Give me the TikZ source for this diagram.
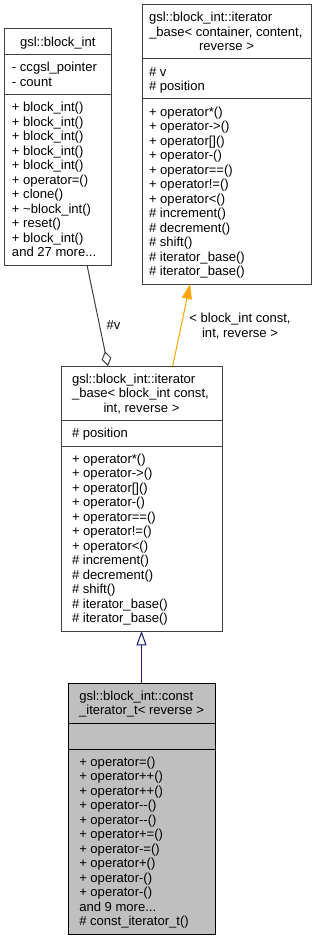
\documentclass[tikz,border=0pt]{standalone}
\usepackage{fontspec}
\setmainfont{Liberation Sans}
\usetikzlibrary{arrows.meta}
\definecolor{nodegray}{HTML}{404040}
\definecolor{edgegray}{HTML}{404040}
\definecolor{rootfill}{HTML}{BFBFBF}
\definecolor{tmplorange}{HTML}{FFA500}
\definecolor{inhblue}{HTML}{191970}
\newcommand\tlines[1]{\begin{tabular}[t]{@{}l@{}}#1\end{tabular}}
\newcommand\clines[1]{\begin{tabular}[t]{@{}c@{}}#1\end{tabular}}
\begin{document}
\begin{tikzpicture}[x=0.75pt,y=-0.75pt,
  font=\fontsize{9.79}{10.875}\selectfont,
  classbox/.style={draw=nodegray, line width=0.75pt, fill=white, inner sep=0pt, outer sep=0pt},
  rootbox/.style={draw=black, line width=0.75pt, fill=rootfill, inner sep=0pt, outer sep=0pt},
  sepline/.style={draw=nodegray, line width=0.75pt},
  rootsep/.style={draw=black, line width=0.75pt},
  txt/.style={inner sep=0pt, outer sep=0pt, anchor=base west},
  ctxt/.style={inner sep=0pt, outer sep=0pt, anchor=base},
  usesedge/.style={draw=edgegray, line width=0.75pt},
  tmpledge/.style={draw=tmplorange, line width=0.75pt},
  inhedge/.style={draw=inhblue, line width=0.75pt}]
\useasboundingbox (0,0) rectangle (317,941);

% ---- A: gsl::block_int
\node[classbox, minimum width=79.875pt, minimum height=177pt] (A) at (57.75,147) {};
\draw[sepline] (A.west |- 0,54.5) -- (A.east |- 0,54.5);
\draw[sepline] (A.west |- 0,94.5) -- (A.east |- 0,94.5);
\node[ctxt] (At) at (57.75,46.25) {gsl::block\_int};
\node[txt] (Aa) at (12,71.75) {\tlines{- ccgsl\_pointer\\- count}};
\node[txt] (Am) at (12,111.75) {\tlines{+ block\_int()\\+ block\_int()\\+ block\_int()\\+ block\_int()\\+ block\_int()\\+ operator=()\\+ clone()\\+ \textasciitilde block\_int()\\+ reset()\\+ block\_int()\\and 27 more...}};

% ---- B: iterator_base< container, content, reverse >
\node[classbox, minimum width=126.75pt, minimum height=209.625pt] (B) at (226.5,144.25) {};
\draw[sepline] (B.west |- 0,59) -- (B.east |- 0,59);
\draw[sepline] (B.west |- 0,99) -- (B.east |- 0,99);
\node[txt] (Bt) at (149,21.75) {\tlines{gsl::block\_int::iterator\\\_base< container, content,}};
\node[ctxt] (Bt3) at (226.5,50.75) {reverse >};
\node[txt] (Ba) at (149,76.25) {\tlines{\# v\\\# position}};
\node[txt] (Bm) at (149,116.25) {\tlines{+ operator*()\\+ operator->()\\+ operator[]()\\+ operator-()\\+ operator==()\\+ operator!=()\\+ operator<()\\\# increment()\\\# decrement()\\\# shift()\\\# iterator\_base()\\\# iterator\_base()}};

% ---- C: iterator_base< block_int const, int, reverse >
\node[classbox, minimum width=120.75pt, minimum height=198.75pt] (C) at (141.5,498.5) {};
\draw[sepline] (C.west |- 0,420.5) -- (C.east |- 0,420.5);
\draw[sepline] (C.west |- 0,446) -- (C.east |- 0,446);
\node[txt] (Ct) at (72,383.25) {\tlines{gsl::block\_int::iterator\\\_base< block\_int const,}};
\node[ctxt] (Ct3) at (141.5,412.25) {int, reverse >};
\node[txt] (Ca) at (72,437.75) {\# position};
\node[txt] (Cm) at (72,463.25) {\tlines{+ operator*()\\+ operator->()\\+ operator[]()\\+ operator-()\\+ operator==()\\+ operator!=()\\+ operator<()\\\# increment()\\\# decrement()\\\# shift()\\\# iterator\_base()\\\# iterator\_base()}};

% ---- D: const_iterator_t< reverse >
\node[rootbox, minimum width=110.25pt, minimum height=188.25pt] (D) at (141.5,808.5) {};
\draw[rootsep] (D.west |- 0,723) -- (D.east |- 0,723);
\draw[rootsep] (D.west |- 0,749) -- (D.east |- 0,749);
\node[txt] (Dt) at (79.25,700.25) {gsl::block\_int::const};
\node[ctxt] (Dt2) at (141.5,714.75) {\_iterator\_t< reverse >};
\node[txt] (Dm) at (79.25,766.25) {\tlines{+ operator=()\\+ operator++()\\+ operator++()\\+ operator-{}-()\\+ operator-{}-()\\+ operator+=()\\+ operator-=()\\+ operator+()\\+ operator-()\\+ operator-()\\and 9 more...\\\# const\_iterator\_t()}};

% ---- connectors
\draw[usesedge, -{Diamond[open, length=11.25pt, width=7.5pt, fill=white]}]
  ([xshift=21.94pt]A.south) -- ([xshift=-25.125pt]C.north);
\node[ctxt] (Lv) at (113.5,329.5) {\#v};

\draw[tmpledge, -{Triangle[length=11.25pt, width=7.5pt]}, tmplorange]
  ([xshift=23.4pt]C.north) -- ([xshift=-27.4pt]B.south);
\node[ctxt] (Lt) at (240,322.5) {\clines{< block\_int const,\\int, reverse >}};

\draw[inhedge, -{Triangle[open, length=10.8pt, width=7.5pt, fill=white]}]
  (D.north) -- (C.south);
\end{tikzpicture}
\end{document}
